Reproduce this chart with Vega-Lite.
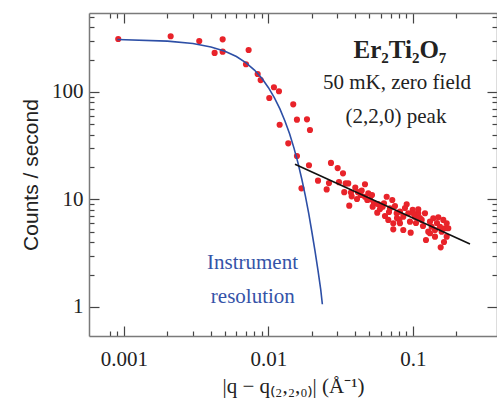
{
  "$schema": "https://vega.github.io/schema/vega-lite/v6.json",
  "width": 408,
  "height": 323,
  "autosize": "none",
  "padding": {"left": 89, "top": 13, "right": 0, "bottom": 64},
  "background": "white",
  "config": {
    "view": {"stroke": null},
    "axis": {
      "grid": false,
      "domainColor": "#7a7a7a",
      "domainWidth": 1.5,
      "tickColor": "#444444",
      "tickWidth": 1.2,
      "labelFont": "Liberation Serif",
      "labelFontSize": 21,
      "labelColor": "#222222",
      "titleFontWeight": "normal",
      "titleColor": "#222222"
    }
  },
  "datasets": {
    "pts": [
      {"q": 0.000913, "c": 311}, {"q": 0.002105, "c": 330}, {"q": 0.00332, "c": 298}, {"q": 0.00482, "c": 309},
      {"q": 0.00424, "c": 231}, {"q": 0.00482, "c": 237}, {"q": 0.00729, "c": 246}, {"q": 0.00699, "c": 181},
      {"q": 0.00842, "c": 147}, {"q": 0.00883, "c": 129}, {"q": 0.01091, "c": 110.6}, {"q": 0.01182, "c": 101.5},
      {"q": 0.01013, "c": 87.9}, {"q": 0.01484, "c": 76.8}, {"q": 0.01574, "c": 55.3}, {"q": 0.01847, "c": 55.7},
      {"q": 0.01937, "c": 44.3}, {"q": 0.01195, "c": 49.6}, {"q": 0.01371, "c": 33.3}, {"q": 0.01574, "c": 25.4},
      {"q": 0.01907, "c": 20.8}, {"q": 0.01692, "c": 12.7}, {"q": 0.02707, "c": 21.9}, {"q": 0.03012, "c": 19.6},
      {"q": 0.03279, "c": 17.5}, {"q": 0.02202, "c": 14.96}, {"q": 0.02622, "c": 14.2}, {"q": 0.03075, "c": 14.5},
      {"q": 0.03421, "c": 14.1}, {"q": 0.03565, "c": 14.1}, {"q": 0.02528, "c": 12.4}, {"q": 0.03345, "c": 11.7},
      {"q": 0.03723, "c": 11.6}, {"q": 0.03988, "c": 12.9}, {"q": 0.04654, "c": 13.85}, {"q": 0.03765, "c": 10.7},
      {"q": 0.04416, "c": 12.1}, {"q": 0.04345, "c": 11.0}, {"q": 0.04654, "c": 10.6}, {"q": 0.04906, "c": 11.4},
      {"q": 0.04828, "c": 9.89}, {"q": 0.03623, "c": 8.76}, {"q": 0.0504, "c": 10.04}, {"q": 0.05372, "c": 9.22},
      {"q": 0.05262, "c": 8.57}, {"q": 0.05661, "c": 7.54}, {"q": 0.06577, "c": 10.6}, {"q": 0.06299, "c": 9.22},
      {"q": 0.0617, "c": 8.57}, {"q": 0.07189, "c": 9.89}, {"q": 0.06931, "c": 8.28}, {"q": 0.064, "c": 7.02},
      {"q": 0.06747, "c": 6.45}, {"q": 0.07306, "c": 6.01}, {"q": 0.07306, "c": 5.28}, {"q": 0.07712, "c": 7.44},
      {"q": 0.08128, "c": 7.7}, {"q": 0.08039, "c": 6.45}, {"q": 0.09045, "c": 9.02}, {"q": 0.08567, "c": 6.92},
      {"q": 0.09279, "c": 7.44}, {"q": 0.09532, "c": 6.22}, {"q": 0.09952, "c": 7.99}, {"q": 0.1032, "c": 6.92},
      {"q": 0.1088, "c": 7.44}, {"q": 0.08567, "c": 5.2}, {"q": 0.0964, "c": 4.91}, {"q": 0.08128, "c": 6.01},
      {"q": 0.1088, "c": 8.11}, {"q": 0.1005, "c": 7.44}, {"q": 0.1211, "c": 7.44}, {"q": 0.1149, "c": 6.45},
      {"q": 0.1311, "c": 6.22}, {"q": 0.1382, "c": 6.69}, {"q": 0.1497, "c": 6.83}, {"q": 0.1621, "c": 6.45},
      {"q": 0.1711, "c": 6.01}, {"q": 0.1347, "c": 5.58}, {"q": 0.142, "c": 5.2}, {"q": 0.1538, "c": 5.58},
      {"q": 0.1665, "c": 5.4}, {"q": 0.1311, "c": 4.85}, {"q": 0.142, "c": 4.51}, {"q": 0.158, "c": 5.02},
      {"q": 0.1711, "c": 4.51}, {"q": 0.1555, "c": 3.59}, {"q": 0.1276, "c": 5.02}, {"q": 0.1755, "c": 5.4},
      {"q": 0.04098, "c": 10.1}, {"q": 0.05725, "c": 9.08}, {"q": 0.0591, "c": 8.16}, {"q": 0.07505, "c": 8.7},
      {"q": 0.07749, "c": 6.73}, {"q": 0.08804, "c": 8.33}, {"q": 0.1049, "c": 6.04}, {"q": 0.1173, "c": 5.67},
      {"q": 0.1466, "c": 6.04}, {"q": 0.123, "c": 4.2}, {"q": 0.06823, "c": 7.65}, {"q": 0.1118, "c": 6.73},
      {"q": 0.04163, "c": 11.7}, {"q": 0.1639, "c": 4.02}, {"q": 0.05204, "c": 11.0}
    ],
    "res": [
      {"q": 0.0009, "c": 307.4}, {"q": 0.002, "c": 297.4}, {"q": 0.003, "c": 282.4}, {"q": 0.004, "c": 262.6},
      {"q": 0.005, "c": 239.3}, {"q": 0.006, "c": 213.6}, {"q": 0.007, "c": 186.7}, {"q": 0.008, "c": 159.9},
      {"q": 0.009, "c": 134.1}, {"q": 0.01, "c": 109.7}, {"q": 0.011, "c": 88.3}, {"q": 0.012, "c": 69.6},
      {"q": 0.013, "c": 53.7}, {"q": 0.014, "c": 40.8}, {"q": 0.015, "c": 30.2}, {"q": 0.016, "c": 21.9},
      {"q": 0.017, "c": 15.5}, {"q": 0.018, "c": 10.82}, {"q": 0.019, "c": 7.38}, {"q": 0.02, "c": 4.93},
      {"q": 0.021, "c": 3.3}, {"q": 0.022, "c": 2.2}, {"q": 0.023, "c": 1.45}, {"q": 0.0236, "c": 1.06}
    ],
    "fit": [
      {"q": 0.01526, "c": 21.3}, {"q": 0.248, "c": 3.85}
    ],
    "title": [{"q": 0.0813, "c": 246, "t": "Er₂Ti₂O₇"}],
    "info": [
      {"q": 0.0775, "c": 121.3, "t": "50 mK, zero field"},
      {"q": 0.0763, "c": 58.5, "t": "(2,2,0) peak"}
    ],
    "inst": [
      {"q": 0.00775, "c": 2.566, "t": "Instrument"},
      {"q": 0.0078, "c": 1.239, "t": "resolution"}
    ]
  },
  "layer": [
    {
      "data": {"name": "pts"},
      "mark": {"type": "circle", "color": "#e8232a", "opacity": 1, "size": 38},
      "encoding": {
        "x": {
          "field": "q", "type": "quantitative",
          "scale": {"type": "log", "domain": [0.000573, 0.3814], "nice": false},
          "axis": {
            "orient": "bottom",
            "values": [0.0008, 0.0009, 0.001, 0.002, 0.003, 0.004, 0.005, 0.006, 0.007, 0.008, 0.009, 0.01, 0.02, 0.03, 0.04, 0.05, 0.06, 0.07, 0.08, 0.09, 0.1, 0.2],
            "tickSize": {"condition": {"test": "datum.value == 0.001 || datum.value == 0.01 || datum.value == 0.1", "value": -10}, "value": -5},
            "labelExpr": "datum.value == 0.001 ? '0.001' : datum.value == 0.01 ? '0.01' : datum.value == 0.1 ? '0.1' : ''",
            "labelPadding": 22,
            "title": "|q − q₍₂,₂,₀₎| (Å⁻¹)",
            "titleFont": "Liberation Serif",
            "titleFontSize": 21,
            "titlePadding": 6
          }
        },
        "y": {
          "field": "c", "type": "quantitative",
          "scale": {"type": "log", "domain": [0.537, 543], "nice": false},
          "axis": {
            "orient": "left",
            "values": [1, 2, 3, 4, 5, 6, 7, 8, 9, 10, 20, 30, 40, 50, 60, 70, 80, 90, 100, 200, 300, 400, 500],
            "tickSize": {"condition": {"test": "datum.value == 1 || datum.value == 10 || datum.value == 100", "value": -10}, "value": -5},
            "labelExpr": "datum.value == 1 ? '1' : datum.value == 10 ? '10' : datum.value == 100 ? '100' : ''",
            "labelPadding": 16,
            "title": "Counts / second",
            "titleFont": "Liberation Sans",
            "titleFontSize": 21,
            "titlePadding": 10
          }
        }
      }
    },
    {
      "data": {"name": "res"},
      "mark": {"type": "line", "color": "#2d4fa6", "strokeWidth": 1.6},
      "encoding": {
        "x": {
          "field": "q", "type": "quantitative",
          "scale": {"type": "log", "domain": [0.000573, 0.3814], "nice": false},
          "axis": {
            "orient": "top",
            "values": [0.0008, 0.0009, 0.001, 0.002, 0.003, 0.004, 0.005, 0.006, 0.007, 0.008, 0.009, 0.01, 0.02, 0.03, 0.04, 0.05, 0.06, 0.07, 0.08, 0.09, 0.1, 0.2],
            "tickSize": {"condition": {"test": "datum.value == 0.001 || datum.value == 0.01 || datum.value == 0.1", "value": -10}, "value": -5},
            "labels": false,
            "title": null
          }
        },
        "y": {
          "field": "c", "type": "quantitative",
          "scale": {"type": "log", "domain": [0.537, 543], "nice": false},
          "axis": {
            "orient": "right",
            "values": [1, 2, 3, 4, 5, 6, 7, 8, 9, 10, 20, 30, 40, 50, 60, 70, 80, 90, 100, 200, 300, 400, 500],
            "tickSize": {"condition": {"test": "datum.value == 1 || datum.value == 10 || datum.value == 100", "value": -10}, "value": -5},
            "labels": false,
            "title": null
          }
        }
      }
    },
    {
      "data": {"name": "fit"},
      "mark": {"type": "line", "color": "#111111", "strokeWidth": 1.6},
      "encoding": {
        "x": {"field": "q", "type": "quantitative", "scale": {"type": "log", "domain": [0.000573, 0.3814], "nice": false}, "axis": null},
        "y": {"field": "c", "type": "quantitative", "scale": {"type": "log", "domain": [0.537, 543], "nice": false}, "axis": null}
      }
    },
    {
      "data": {"name": "title"},
      "mark": {"type": "text", "font": "Liberation Serif", "fontWeight": "bold", "fontSize": 25, "color": "#222222", "align": "center", "baseline": "middle"},
      "encoding": {
        "x": {"field": "q", "type": "quantitative", "scale": {"type": "log", "domain": [0.000573, 0.3814], "nice": false}, "axis": null},
        "y": {"field": "c", "type": "quantitative", "scale": {"type": "log", "domain": [0.537, 543], "nice": false}, "axis": null},
        "text": {"field": "t"}
      }
    },
    {
      "data": {"name": "info"},
      "mark": {"type": "text", "font": "Liberation Serif", "fontSize": 21, "color": "#222222", "align": "center", "baseline": "middle"},
      "encoding": {
        "x": {"field": "q", "type": "quantitative", "scale": {"type": "log", "domain": [0.000573, 0.3814], "nice": false}, "axis": null},
        "y": {"field": "c", "type": "quantitative", "scale": {"type": "log", "domain": [0.537, 543], "nice": false}, "axis": null},
        "text": {"field": "t"}
      }
    },
    {
      "data": {"name": "inst"},
      "mark": {"type": "text", "font": "Liberation Serif", "fontSize": 21, "color": "#3553a8", "align": "center", "baseline": "middle"},
      "encoding": {
        "x": {"field": "q", "type": "quantitative", "scale": {"type": "log", "domain": [0.000573, 0.3814], "nice": false}, "axis": null},
        "y": {"field": "c", "type": "quantitative", "scale": {"type": "log", "domain": [0.537, 543], "nice": false}, "axis": null},
        "text": {"field": "t"}
      }
    }
  ],
  "resolve": {"axis": {"x": "independent", "y": "independent"}}
}
